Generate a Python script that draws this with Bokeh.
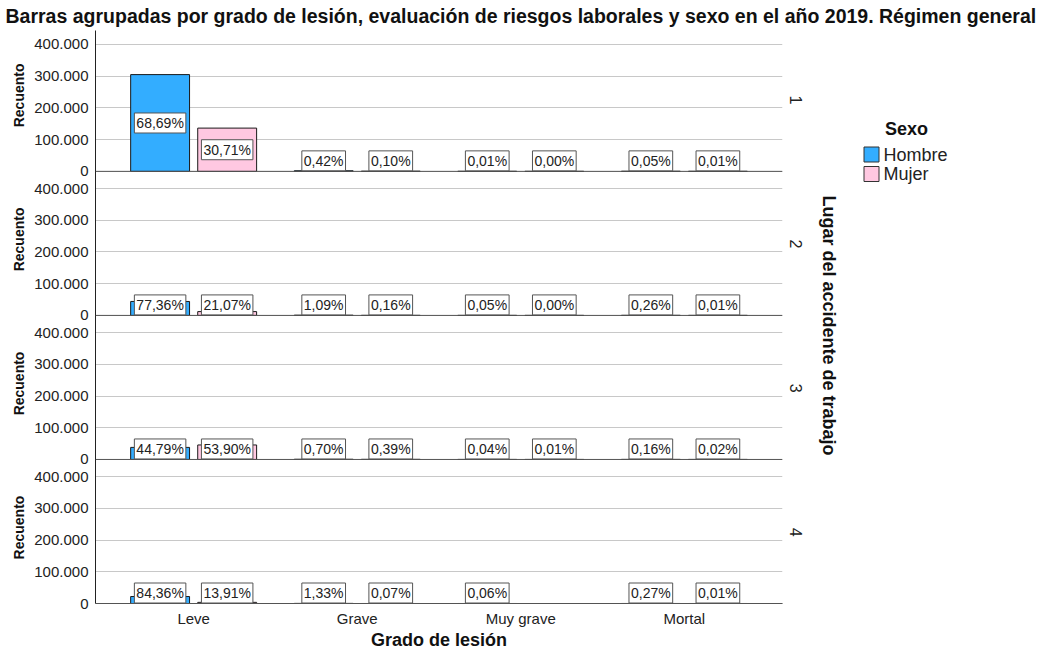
import math
from bokeh.plotting import figure
from bokeh.models import (FactorRange, Range1d, FixedTicker, Span, LinearAxis,
                          ColumnDataSource)
from bokeh.transform import dodge
from bokeh.layouts import column, row
from bokeh.core.properties import value
from bokeh.embed import file_html
from bokeh.resources import INLINE

FONT = "Liberation Sans"

# ---------------- data ----------------
grados = ["Leve", "Grave", "Muy grave", "Mortal"]
lugares = ["1", "2", "3", "4"]
sexos = ["Hombre", "Mujer"]

hombre_1 = [305000, 1865, 44, 222]
mujer_1 = [136400, 444, 9, 44]
hombre_2 = [44000, 620, 28, 148]
mujer_2 = [12000, 91, 2, 6]
hombre_3 = [38000, 594, 34, 136]
mujer_3 = [45700, 331, 8, 17]
hombre_4 = [22000, 347, 16, 70]
mujer_4 = [3630, 18, None, 3]

pct_hombre_1 = [68.69, 0.42, 0.01, 0.05]
pct_mujer_1 = [30.71, 0.10, 0.00, 0.01]
pct_hombre_2 = [77.36, 1.09, 0.05, 0.26]
pct_mujer_2 = [21.07, 0.16, 0.00, 0.01]
pct_hombre_3 = [44.79, 0.70, 0.04, 0.16]
pct_mujer_3 = [53.90, 0.39, 0.01, 0.02]
pct_hombre_4 = [84.36, 1.33, 0.06, 0.27]
pct_mujer_4 = [13.91, 0.07, None, 0.01]

y_ticks = [0, 100000, 200000, 300000, 400000]
y_tick_labels = ["0", "100.000", "200.000", "300.000", "400.000"]

TITLE = ("Barras agrupadas por grado de lesión, evaluación de riesgos laborales "
         "y sexo en el año 2019. Régimen general")
X_LABEL = "Grado de lesión"
Y_LABEL = "Recuento"
FACET_LABEL = "Lugar del accidente de trabajo"
LEGEND_TITLE = "Sexo"

C_H = "#33ADFF"
C_M = "#FFC8E1"

panels = [
    (hombre_1, mujer_1, pct_hombre_1, pct_mujer_1),
    (hombre_2, mujer_2, pct_hombre_2, pct_mujer_2),
    (hombre_3, mujer_3, pct_hombre_3, pct_mujer_3),
    (hombre_4, mujer_4, pct_hombre_4, pct_mujer_4),
]

# ---------------- layout constants ----------------
TOTAL_W = 1039
TITLE_H = 30
MAIN_W = 810
FRAME_L = 94
FRAME_W = 689
MAIN_H = 652 - TITLE_H
FRAME_H = 573                # expected frame height (MAIN_H minus x-axis block)
RIGHT_W = TOTAL_W - MAIN_W

PANEL_SPAN = 454000          # vertical data span reserved for one facet
TOP_EXTRA = 444000           # space above the zero line of the top facet
Y_END = (len(panels) - 1) * PANEL_SPAN + TOP_EXTRA
SCALE = Y_END / FRAME_H      # data units per pixel
MIN_LABEL_PX = 10.5
RECUENTO_TOP = 340000        # upper end of each "Recuento" label
FACET_TOP = 239000           # upper end of each facet number
OFF = 0.205
BAR_W = 0.36

xr = FactorRange(factors=grados, range_padding=0.05)
yr = Range1d(0, Y_END)
base = [(len(panels) - 1 - k) * PANEL_SPAN for k in range(len(panels))]


def fmt_pct(v):
    return ("%.2f%%" % v).replace(".", ",")


def page_y(py):
    """data y of a point py pixels from the top of the page (right-hand block)"""
    return Y_END - (py - TITLE_H) * SCALE


p = figure(width=MAIN_W, height=MAIN_H, x_range=xr, y_range=yr,
           toolbar_location=None, output_backend="svg",
           min_border_left=FRAME_L, min_border_right=MAIN_W - FRAME_L - FRAME_W,
           min_border_top=0, min_border_bottom=MAIN_H - FRAME_H)
p.outline_line_color = None
p.background_fill_color = "white"
p.border_fill_color = "white"
p.xgrid.visible = False

all_ticks = [b + t for b in base for t in y_ticks]
overrides = {b + t: l for b in base for t, l in zip(y_ticks, y_tick_labels)}
p.ygrid.ticker = FixedTicker(ticks=all_ticks)
p.ygrid.grid_line_color = "#C8C8C8"
p.ygrid.grid_line_width = 1

ya = p.yaxis[0]
ya.ticker = FixedTicker(ticks=all_ticks)
ya.major_label_overrides = overrides
ya.major_label_text_font = FONT
ya.major_label_text_font_size = "15px"
ya.major_label_text_color = "#222222"
ya.major_tick_line_color = None
ya.minor_tick_line_color = None
ya.major_label_standoff = 1
ya.axis_line_color = "#222222"

# outer left axis carrying one "Recuento" per facet
ra = LinearAxis(ticker=FixedTicker(ticks=[b + RECUENTO_TOP for b in base]),
                major_label_overrides={b + RECUENTO_TOP: Y_LABEL for b in base},
                major_label_orientation=math.pi / 2,
                major_label_text_font=FONT, major_label_text_font_size="14px",
                major_label_text_font_style="bold", major_label_text_color="#111111",
                major_label_standoff=6, axis_line_color=None,
                major_tick_line_color=None, minor_tick_line_color=None)
p.add_layout(ra, "left")

# right axis carrying the facet numbers
fa = LinearAxis(ticker=FixedTicker(ticks=[b + FACET_TOP for b in base]),
                major_label_overrides={b + FACET_TOP: l for b, l in zip(base, lugares)},
                major_label_orientation=-math.pi / 2,
                major_label_text_font=FONT, major_label_text_font_size="16px",
                major_label_text_color="#222222",
                major_label_standoff=7, axis_line_color=None,
                major_tick_line_color=None, minor_tick_line_color=None)
p.add_layout(fa, "right")

xa = p.xaxis[0]
xa.major_label_text_font = FONT
xa.major_label_text_font_size = "15px"
xa.major_label_text_color = "#222222"
xa.major_tick_line_color = None
xa.minor_tick_line_color = None
xa.major_label_standoff = 0
xa.axis_line_color = "#555555"
xa.axis_label = X_LABEL
xa.axis_label_text_font = FONT
xa.axis_label_text_font_size = "18px"
xa.axis_label_text_font_style = "bold"
xa.axis_label_text_color = "#111111"
xa.axis_label_standoff = 0

for k, (hom, muj, ph, pm) in enumerate(panels):
    b0 = base[k]
    src = ColumnDataSource(dict(
        grado=grados,
        bottom=[b0] * len(grados),
        h=[b0 + v if v is not None else None for v in hom],
        m=[b0 + v if v is not None else None for v in muj],
    ))
    p.vbar(x=dodge("grado", -OFF, range=xr), bottom="bottom", top="h", width=BAR_W,
           source=src, fill_color=C_H, line_color="#1A1A1A", line_width=1)
    p.vbar(x=dodge("grado", OFF, range=xr), bottom="bottom", top="m", width=BAR_W,
           source=src, fill_color=C_M, line_color="#1A1A1A", line_width=1)
    p.add_layout(Span(location=b0, dimension="width", line_color="#555555", line_width=1))

    for vals, pcts, off in ((hom, ph, -OFF), (muj, pm, OFF)):
        xs, ys, ts = [], [], []
        for g, v, pc in zip(grados, vals, pcts):
            if v is None or pc is None:
                continue
            xs.append(g)
            ys.append(b0 + max(v / 2.0, MIN_LABEL_PX * SCALE))
            ts.append(fmt_pct(pc))
        lsrc = ColumnDataSource(dict(g=xs, y=ys, t=ts))
        p.text(x=dodge("g", off, range=xr), y="y", text="t", source=lsrc,
               text_font=value(FONT), text_font_size="14px", text_color="#222222",
               text_align="center", text_baseline="middle",
               background_fill_color="white", border_line_color="#555555",
               border_line_width=1, padding=2)

# ---------------- title ----------------
tf = figure(width=TOTAL_W, height=TITLE_H, x_range=Range1d(0, TOTAL_W),
            y_range=Range1d(0, TITLE_H), toolbar_location=None, output_backend="svg",
            x_axis_location=None, y_axis_location=None, min_border=0)
tf.outline_line_color = None
tf.grid.visible = False
tf.text(x=[5], y=[14.5], text=[TITLE], text_font=value(FONT), text_font_size="19.5px",
        text_font_style="bold", text_color="#111111", text_align="left",
        text_baseline="middle")

# ---------------- right side: facet title + legend (frame aligned with p) ----------------
rf = figure(width=RIGHT_W, height=MAIN_H, x_range=Range1d(0, RIGHT_W), y_range=yr,
            toolbar_location=None, output_backend="svg",
            x_axis_location=None, y_axis_location=None, min_border=0)
rf.outline_line_color = None
rf.grid.visible = False
rf.text(x=[18], y=[page_y(325)], text=[FACET_LABEL], angle=-math.pi / 2,
        text_font=value(FONT), text_font_size="18px", text_font_style="bold",
        text_color="#111111", text_align="center", text_baseline="middle")
rf.text(x=[96], y=[page_y(128)], text=[LEGEND_TITLE], text_font=value(FONT),
        text_font_size="18px", text_font_style="bold", text_color="#111111",
        text_align="center", text_baseline="middle")
rf.rect(x=[61, 61], y=[page_y(154), page_y(173.5)], width=15, height=15,
        height_units="screen", fill_color=[C_H, C_M],
        line_color="#333333", line_width=1)
rf.text(x=[73, 73], y=[page_y(154), page_y(173.5)], text=sexos, text_font=value(FONT),
        text_font_size="18px", text_color="#222222", text_align="left",
        text_baseline="middle")

layout = column(tf, row(p, rf, spacing=0), spacing=0)
open("out.html", "w").write(file_html(layout, INLINE))
